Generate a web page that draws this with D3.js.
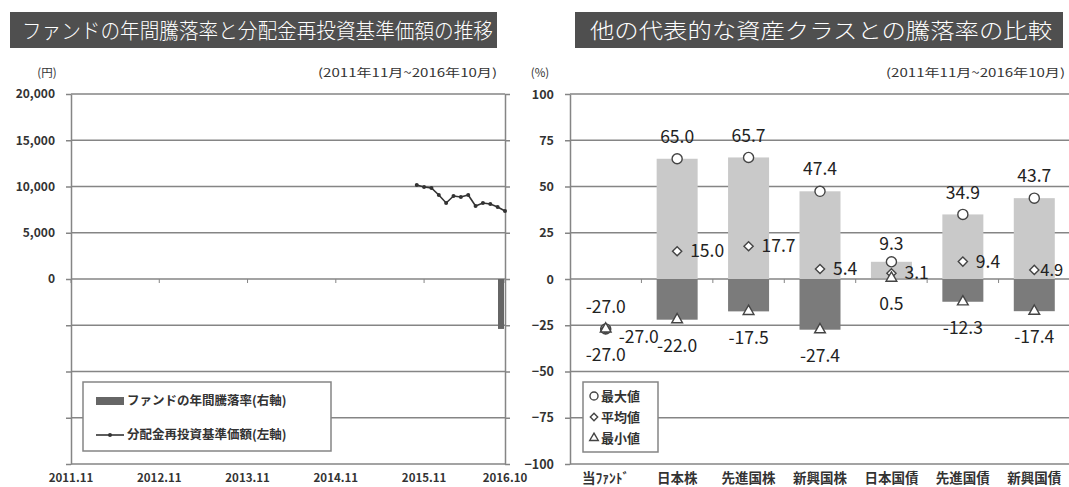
<!DOCTYPE html>
<html>
<head>
<meta charset="utf-8">
<script src="https://cdn.jsdelivr.net/npm/d3@7"></script>
<style>
  body { margin: 0; background: #fff; }
  svg { display: block; font-family: "Noto Sans CJK JP", "Noto Sans", sans-serif; }
</style>
</head>
<body>
<svg id="chart" width="1069" height="487"></svg>
<script>
// left chart data
var navTicks = [-20000, -15000, -10000, -5000, 0, 5000, 10000, 15000, 20000];
var monthTicks = [0, 12, 24, 36, 48, 59];
var monthLabels = ["2011.11", "2012.11", "2013.11", "2014.11", "2015.11", "2016.10"];
var navMonths = [47, 48, 49, 50, 51, 52, 53, 54, 55, 56, 57, 58, 59];
var navValues = [10160, 9950, 9840, 9080, 8220, 8970, 8860, 9080, 7890, 8220, 8110, 7780, 7350];
var fundMonths = [59];
var fundReturns = [-27.0];

// right chart data
var pctTicks = [100, 75, 50, 25, 0, -25, -50, -75, -100];
var categories = ["当ﾌｧﾝﾄﾞ", "日本株", "先進国株", "新興国株", "日本国債", "先進国債", "新興国債"];
var maxVals = [-27.0, 65.0, 65.7, 47.4, 9.3, 34.9, 43.7];
var avgVals = [-27.0, 15.0, 17.7, 5.4, 3.1, 9.4, 4.9];
var minVals = [-27.0, -22.0, -17.5, -27.4, 0.5, -12.3, -17.4];

var gridColor = "#858585";
var lightBar = "#c9c9c9";
var darkBar = "#7b7b7b";
var textColor = "#333";

var svg = d3.select("#chart");

drawTitle(10, 497, "ファンドの年間騰落率と分配金再投資基準価額の推移", 22, 493);
drawTitle(575, 1063, "他の代表的な資産クラスとの騰落率の比較", 590, 1052);
drawLeft();
drawRight();

function drawTitle(x0, x1, label, t0, t1) {
    svg.append("rect")
        .attr("x", x0).attr("y", 12)
        .attr("width", x1 - x0).attr("height", 36)
        .attr("fill", "#4f4f4f");
    svg.append("text")
        .attr("x", t0).attr("y", 38)
        .attr("fill", "#fff")
        .attr("font-size", 21)
        .attr("font-weight", 300)
        .attr("textLength", t1 - t0)
        .attr("lengthAdjust", "spacingAndGlyphs")
        .text(label);
}

function unitText(x, label, anchor, len) {
    var t = svg.append("text").attr("x", x).attr("y", 77).attr("text-anchor", anchor)
        .attr("font-size", 11.5).attr("fill", textColor).text(label);
    if (len) t.attr("textLength", len).attr("lengthAdjust", "spacingAndGlyphs");
}

function drawLeft() {
    var x = d3.scaleLinear().domain([0, 59]).range([71, 505]);
    var yL = d3.scaleLinear().domain([-20000, 20000]).range([464, 94]);
    var yR = d3.scaleLinear().domain([-100, 100]).range([464, 94]);

    var g = svg.append("g");

    // gridlines
    g.selectAll(".gridL").data(navTicks).enter().append("line")
        .attr("x1", x(0)).attr("x2", x(59))
        .attr("y1", function (d) { return yL(d); })
        .attr("y2", function (d) { return yL(d); })
        .attr("stroke", gridColor).attr("stroke-width", 1.5);

    // left axis
    var axL = g.append("g")
        .attr("transform", "translate(" + x(0) + ",0)")
        .call(d3.axisLeft(yL).tickValues(navTicks).tickSizeInner(5).tickSizeOuter(0)
            .tickFormat(function (d) { return d >= 0 ? d3.format(",")(d) : ""; }));
    styleAxis(axL, 12);
    axL.selectAll("text").attr("x", -16);

    // right axis (percent, no labels)
    var axR = g.append("g")
        .attr("transform", "translate(" + x(59) + ",0)")
        .call(d3.axisRight(yR).tickValues(pctTicks).tickSizeInner(5).tickSizeOuter(0).tickFormat(""));
    styleAxis(axR, 11);

    // x labels and ticks on zero line
    g.selectAll(".xt").data(monthTicks).enter().append("line")
        .attr("x1", function (d) { return x(d); }).attr("x2", function (d) { return x(d); })
        .attr("y1", yL(0)).attr("y2", yL(0) + 4)
        .attr("stroke", gridColor).attr("stroke-width", 1);
    g.selectAll(".xl").data(monthTicks).enter().append("text")
        .attr("x", function (d) { return x(d); })
        .attr("y", 482)
        .attr("text-anchor", "middle")
        .attr("font-size", 11.5).attr("font-weight", "bold")
        .attr("fill", textColor)
        .text(function (d, i) { return monthLabels[i]; });

    // fund annual return bar (right axis)
    g.selectAll(".fbar").data(fundReturns).enter().append("rect")
        .attr("x", function (d, i) { return x(fundMonths[i]) - 7; })
        .attr("width", 6)
        .attr("y", function (d) { return Math.min(yR(d), yR(0)); })
        .attr("height", function (d) { return Math.abs(yR(d) - yR(0)); })
        .attr("fill", "#666");

    // nav line (left axis)
    var pts = navMonths.map(function (m, i) { return [x(m), yL(navValues[i])]; });
    g.append("path")
        .attr("d", d3.line()(pts))
        .attr("fill", "none").attr("stroke", "#333").attr("stroke-width", 1.6);
    g.selectAll(".dot").data(pts).enter().append("circle")
        .attr("cx", function (d) { return d[0]; })
        .attr("cy", function (d) { return d[1]; })
        .attr("r", 2).attr("fill", "#333");

    // units
    unitText(47, "(円)", "middle");
    unitText(318, "(2011年11月~2016年10月)", "start", 179);

    // legend
    var lg = svg.append("g");
    lg.append("rect").attr("x", 83).attr("y", 382).attr("width", 248).attr("height", 69)
        .attr("fill", "#fff").attr("stroke", gridColor).attr("stroke-width", 1.5);
    lg.append("rect").attr("x", 96).attr("y", 397).attr("width", 28).attr("height", 8).attr("fill", "#666");
    lg.append("line").attr("x1", 96).attr("x2", 124).attr("y1", 435).attr("y2", 435)
        .attr("stroke", "#333").attr("stroke-width", 1.6);
    lg.append("circle").attr("cx", 110).attr("cy", 435).attr("r", 2).attr("fill", "#333");
    lg.append("text").attr("x", 127).attr("y", 405).attr("font-size", 12.5).attr("font-weight", "bold")
        .attr("fill", textColor).text("ファンドの年間騰落率(右軸)");
    lg.append("text").attr("x", 127).attr("y", 439).attr("font-size", 12.5).attr("font-weight", "bold")
        .attr("fill", textColor).text("分配金再投資基準価額(左軸)");
}

function drawRight() {
    var x = d3.scaleBand().domain(categories).range([570, 1070])
        .paddingInner(0.426).paddingOuter(0.213);
    var y = d3.scaleLinear().domain([-100, 100]).range([464, 94]);
    var step = x.step();

    var g = svg.append("g");

    g.selectAll(".gridR").data(pctTicks).enter().append("line")
        .attr("x1", 570).attr("x2", 1069)
        .attr("y1", function (d) { return y(d); })
        .attr("y2", function (d) { return y(d); })
        .attr("stroke", gridColor).attr("stroke-width", 1.5);

    var ax = g.append("g")
        .attr("transform", "translate(570,0)")
        .call(d3.axisLeft(y).tickValues(pctTicks).tickSizeInner(5).tickSizeOuter(0));
    styleAxis(ax, 12.5);
    ax.selectAll("text").attr("x", -16);

    unitText(540, "(%)", "middle");
    unitText(886, "(2011年11月~2016年10月)", "start", 179);

    // range bars: light above zero, dark below zero
    categories.forEach(function (c, i) {
        var hi = maxVals[i], lo = minVals[i];
        var top = Math.max(lo, 0);
        if (hi > top) {
            g.append("rect").attr("x", x(c)).attr("width", x.bandwidth())
                .attr("y", y(hi)).attr("height", y(top) - y(hi)).attr("fill", lightBar);
        }
        var bot = Math.min(hi, 0);
        if (lo < bot) {
            g.append("rect").attr("x", x(c)).attr("width", x.bandwidth())
                .attr("y", y(bot)).attr("height", y(lo) - y(bot)).attr("fill", darkBar);
        }
    });

    // category ticks on zero line
    d3.range(1, categories.length + 1).forEach(function (k) {
        g.append("line")
            .attr("x1", 570 + k * step).attr("x2", 570 + k * step)
            .attr("y1", y(0)).attr("y2", y(0) + 4)
            .attr("stroke", gridColor).attr("stroke-width", 1);
    });

    // category labels
    g.selectAll(".cl").data(categories).enter().append("text")
        .attr("x", function (d) { return x(d) + x.bandwidth() / 2; })
        .attr("y", 483)
        .attr("text-anchor", "middle")
        .attr("font-size", 13.5).attr("font-weight", "bold")
        .attr("fill", textColor)
        .text(function (d) { return d; });

    // markers + labels
    var last = categories.length - 1;
    categories.forEach(function (c, i) {
        var cx = x(c) + x.bandwidth() / 2;
        var same = maxVals[i] === minVals[i];
        marker(g, "circle", cx, y(maxVals[i]));
        marker(g, "diamond", cx, y(avgVals[i]));
        marker(g, "triangle", cx, y(minVals[i]));

        valueLabel(g, cx, y(maxVals[i]) - (i === 4 ? 18 : 22), "middle", maxVals[i]);
        valueLabel(g, cx + (i === last ? 6 : 13), y(avgVals[i]) + (same ? 8 : 0), "start", avgVals[i], i === last ? 16.5 : null);
        valueLabel(g, cx, y(minVals[i]) + 26, "middle", minVals[i]);
    });

    // legend
    var lg = svg.append("g");
    lg.append("rect").attr("x", 583).attr("y", 382).attr("width", 75).attr("height", 70)
        .attr("fill", "#fff").attr("stroke", gridColor).attr("stroke-width", 1.5);
    var items = [["circle", "最大値"], ["diamond", "平均値"], ["triangle", "最小値"]];
    items.forEach(function (it, k) {
        var yy = 396 + k * 21;
        marker(lg, it[0], 594, yy, 0.8);
        lg.append("text").attr("x", 601).attr("y", yy + 5)
            .attr("font-size", 13).attr("font-weight", "bold")
            .attr("fill", textColor).text(it[1]);
    });
}

function marker(g, type, cx, cy, s) {
    s = s || 1;
    var d;
    if (type === "circle") d = d3.symbol(d3.symbolCircle, 80 * s * s)();
    else if (type === "diamond") {
        var r = 4.6 * s;
        d = "M0," + (-r) + "L" + r + ",0L0," + r + "L" + (-r) + ",0Z";
    }
    else d = d3.symbol(d3.symbolTriangle, 50 * s * s)();
    g.append("path")
        .attr("d", d)
        .attr("transform", "translate(" + cx + "," + cy + ")")
        .attr("fill", "#fff").attr("stroke", "#444").attr("stroke-width", 1.4);
}

function valueLabel(g, x, y, anchor, v, fs) {
    g.append("text")
        .attr("x", x).attr("y", y)
        .attr("dy", "0.35em")
        .attr("text-anchor", anchor)
        .attr("font-size", fs || 17.5)
        .attr("fill", "#222")
        .text(d3.format(".1f")(v).replace("−", "-"));
}

function styleAxis(ax, fs) {
    ax.select(".domain").attr("stroke", gridColor).attr("stroke-width", 1.5);
    ax.selectAll(".tick line").attr("stroke", gridColor).attr("stroke-width", 1.5);
    ax.selectAll("text").attr("font-size", fs).attr("font-weight", "bold").attr("fill", textColor)
        .attr("font-family", "'Noto Sans CJK JP', sans-serif");
}
</script>
</body>
</html>
